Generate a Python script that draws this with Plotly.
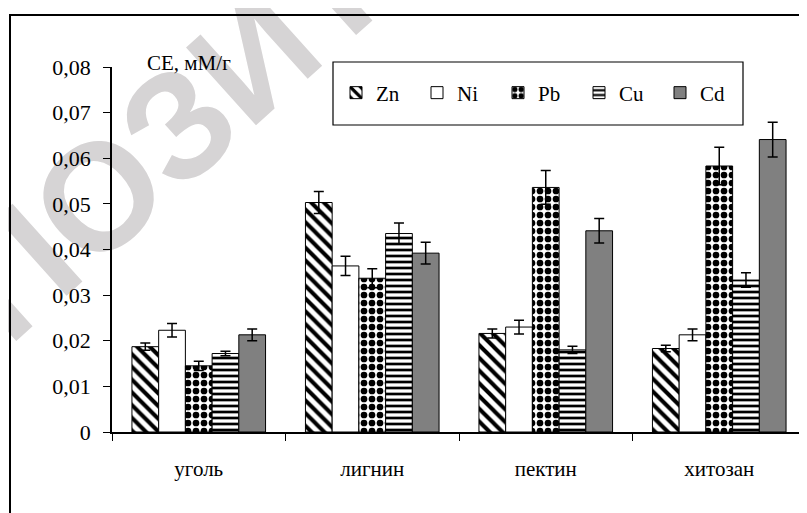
import plotly.graph_objects as go

categories = ["уголь", "лигнин", "пектин", "хитозан"]
metals = ["Zn", "Ni", "Pb", "Cu", "Cd"]

zn = [0.0187, 0.0503, 0.0216, 0.0183]
ni = [0.0223, 0.0364, 0.0230, 0.0213]
pb = [0.0145, 0.0337, 0.0536, 0.0583]
cu = [0.0172, 0.0435, 0.0180, 0.0333]
cd = [0.0213, 0.0392, 0.0441, 0.0641]

zn_err = [0.0008, 0.0024, 0.0010, 0.0007]
ni_err = [0.0015, 0.0021, 0.0015, 0.0013]
pb_err = [0.0010, 0.0021, 0.0037, 0.0041]
cu_err = [0.0005, 0.0023, 0.0008, 0.0016]
cd_err = [0.0013, 0.0024, 0.0027, 0.0038]

y_ticks = [0, 0.01, 0.02, 0.03, 0.04, 0.05, 0.06, 0.07, 0.08]
y_tick_text = ["0", "0,01", "0,02", "0,03", "0,04", "0,05", "0,06", "0,07", "0,08"]

# the page body has an 8px default margin; work in window (screen) pixels
OFF = 8
SW, SH = 807, 513
W, H = SW - OFF, SH - OFF
PLOT_L, PLOT_R, PLOT_T, PLOT_B = 112, 806, 67, 432   # screen pixels
ML, MR, MT, MB = PLOT_L - OFF, SW - PLOT_R, PLOT_T - OFF, SH - PLOT_B
PW, PH = W - ML - MR, H - MT - MB


def px(x):
    return (x - PLOT_L) / PW


def py(y):
    return (PLOT_B - y) / PH


SERIF = "Liberation Serif"

styles = {
    "Zn": dict(color="white", pattern=dict(shape="\\", size=9, solidity=0.45, fgcolor="black", bgcolor="white", fillmode="replace")),
    "Ni": dict(color="white"),
    "Pb": dict(color="white", pattern=dict(shape=".", size=8, solidity=0.55, fgcolor="black", bgcolor="white", fillmode="replace")),
    "Cu": dict(color="white", pattern=dict(shape="-", size=6, solidity=0.45, fgcolor="black", bgcolor="white", fillmode="replace")),
    "Cd": dict(color="#808080"),
}

series = [zn, ni, pb, cu, cd]
errs = [zn_err, ni_err, pb_err, cu_err, cd_err]

fig = go.Figure()
for name, vals, err in zip(metals, series, errs):
    st = styles[name]
    marker = dict(color=st["color"], line=dict(color="black", width=1))
    if "pattern" in st:
        marker["pattern"] = st["pattern"]
    fig.add_trace(go.Bar(
        x=categories, y=vals, name=name, marker=marker,
        error_y=dict(type="data", array=err, visible=True, color="black", thickness=1.5, width=5),
    ))

fig.update_layout(
    width=W, height=H,
    margin=dict(l=ML, r=MR, t=MT, b=MB, autoexpand=False),
    paper_bgcolor="white",
    plot_bgcolor="rgba(0,0,0,0)",
    barmode="group",
    bargap=0.23,
    bargroupgap=0,
    font=dict(family=SERIF, size=20, color="black"),
    showlegend=True,
    legend=dict(
        orientation="h", x=px(336), y=py(93), xanchor="left", yanchor="middle",
        bgcolor="rgba(0,0,0,0)", borderwidth=0, entrywidth=36,
        font=dict(family=SERIF, size=21, color="black"),
        traceorder="normal",
    ),
    xaxis=dict(
        showline=True, linecolor="black", linewidth=1.5,
        ticks="outside", ticklen=7, tickcolor="black", tickwidth=1,
        tickson="boundaries", showgrid=False, ticklabelstandoff=17,
        tickfont=dict(family=SERIF, size=21, color="black"),
        fixedrange=True,
    ),
    yaxis=dict(
        range=[0, 0.08], tickvals=y_ticks, ticktext=y_tick_text,
        showline=True, linecolor="black", linewidth=1.5,
        ticks="outside", ticklen=7, tickcolor="black", tickwidth=1,
        showgrid=False, zeroline=False, ticklabelstandoff=8,
        tickfont=dict(family=SERIF, size=22, color="black"),
        fixedrange=True,
    ),
    shapes=[
        dict(type="rect", xref="paper", yref="paper", layer="below",
             x0=px(215), x1=px(275), y0=py(75), y1=py(15),
             line=dict(width=0), fillcolor="rgba(0,0,0,0)",
             label=dict(text="РЕПОЗИТОРИЙ", textangle=-42, textposition="middle center",
                        font=dict(family="Liberation Sans", size=152, color="#d6d4d5", weight="bold"))),
        dict(type="rect", xref="paper", yref="paper", layer="below",
             x0=px(10), x1=px(830), y0=py(15), y1=py(540),
             line=dict(color="black", width=2), fillcolor="rgba(0,0,0,0)"),
        dict(type="rect", xref="paper", yref="paper", layer="above",
             x0=px(333), x1=px(743), y0=py(62), y1=py(125),
             line=dict(color="black", width=1.2), fillcolor="rgba(0,0,0,0)"),
    ],
    annotations=[
        dict(text="СЕ, мМ/г", xref="paper", yref="paper", x=px(145), y=py(63),
             xanchor="left", yanchor="middle", showarrow=False,
             font=dict(family=SERIF, size=21, color="black")),
    ],
)

fig.write_html("out.html")
